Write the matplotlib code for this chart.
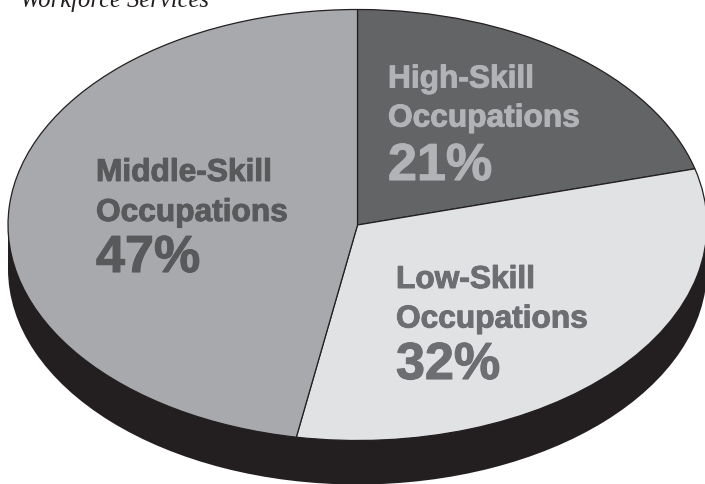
import matplotlib
matplotlib.use('Agg')
import matplotlib.pyplot as plt
import matplotlib.patheffects as pe
from matplotlib.patches import Rectangle

shares = [20.8, 32, 47.2]
labels = ['High-Skill\nOccupations', 'Low-Skill\nOccupations', 'Middle-Skill\nOccupations']
percents = ['21%', '32%', '47%']
source_text = 'Workforce Services'

slice_colors = ['#636466', '#e1e2e4', '#a7a9ac']
text_colors = ['#b1b3b6', '#6d6e71', '#58595b']
side_color = '#231f20'

W, H = 705, 485
cx, cy, rx, ry = 357.5, 226, 349.5, 215.5   # top ellipse in pixels
depth = 44 / ry

fig = plt.figure(figsize=(W / 100, H / 100), dpi=100)
ax = fig.add_axes([0, 0, 1, 1])

# side of the disc
ax.pie([1], radius=1, center=(0, -depth), colors=[side_color], startangle=90)
ax.add_patch(Rectangle((-1, -depth), 2, depth, color=side_color, lw=0))

ax.pie(shares, radius=1, colors=slice_colors, startangle=90, counterclock=False,
       wedgeprops={'edgecolor': side_color, 'linewidth': 0.9})

# pie() forces equal aspect, the chart is a stretched disc
ax.set_aspect('auto')
ax.set_xlim(-cx / rx, (W - cx) / rx)
ax.set_ylim(-(H - cy) / ry, cy / ry)
ax.set_frame_on(False)


def px(x, y):
    return (x - cx) / rx, (cy - y) / ry


# left edge, first line, second line, percent baseline
text_rows = [(388, 88.5, 127.5, 181), (396, 289, 328.5, 380), (96, 182, 222, 273)]

for i, (left, y1, y2, y3) in enumerate(text_rows):
    for line, y_line in zip(labels[i].split('\n'), (y1, y2)):
        x, y = px(left, y_line)
        t = ax.text(x, y, line, family='Liberation Sans', weight='bold', fontsize=22.8,
                    color=text_colors[i], va='baseline', ha='left')
        t.set_path_effects([pe.Stroke(linewidth=0.7, foreground=text_colors[i]), pe.Normal()])
    x, y = px(left, y3)
    t = ax.text(x, y, percents[i], family='Liberation Sans', weight='bold', fontsize=37.5,
                color=text_colors[i], va='baseline', ha='left')
    t.set_path_effects([pe.Stroke(linewidth=0.8, foreground=text_colors[i]), pe.Normal()])

x, y = px(20, 7.5)
ax.text(x, y, source_text, family='Liberation Serif', style='italic', fontsize=17.7,
        color='#231f20', va='baseline', ha='left')

fig.savefig('out.png', dpi=100)
